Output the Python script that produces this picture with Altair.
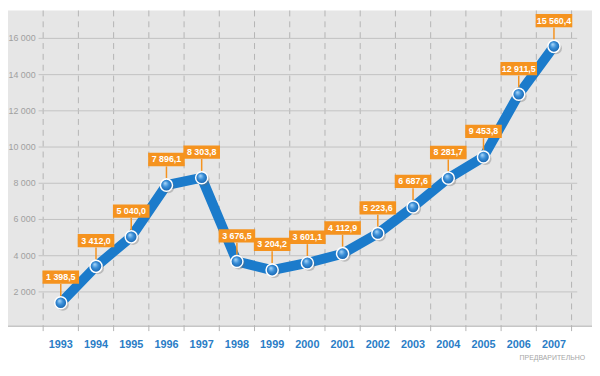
import altair as alt
import pandas as pd

years = [str(y) for y in range(1993, 2008)]
values = [1398.5, 3412.0, 5040.0, 7896.1, 8303.8, 3676.5, 3204.2, 3601.1,
          4112.9, 5223.6, 6687.6, 8281.7, 9453.8, 12911.5, 15560.4]
y_ticks = [2000, 4000, 6000, 8000, 10000, 12000, 14000, 16000]
note_text = ["ПРЕДВАРИТЕЛЬНО"]


def fmt1(v):
    return f"{v:,.1f}".replace(",", " ").replace(".", ",")


def fmt0(v):
    return f"{v:,.0f}".replace(",", " ")


df = pd.DataFrame({"idx": list(range(len(years))), "year": years,
                   "value": values, "label": [fmt1(v) for v in values]})
bounds = pd.DataFrame({"b": [i - 0.5 for i in range(len(years) + 1)]})
ticks = pd.DataFrame({"t": y_ticks, "tl": [fmt0(t) for t in y_ticks]})
one = pd.DataFrame({"a": [0]})
note = pd.DataFrame({"note": note_text})

FONT = "Liberation Sans, Arial, sans-serif"
ORANGE = "#f5931f"
BLUE = "#1b7bcb"

xs = alt.Scale(domain=[-1.498, 15.08], nice=False, zero=False)
ys = alt.Scale(domain=[-2506, 17541], nice=False, zero=False)


def X(f):
    return alt.X(f, type="quantitative", scale=xs, axis=None)


def Y(f):
    return alt.Y(f, type="quantitative", scale=ys, axis=None)


panel = alt.Chart(one).mark_rect(color="#e6e6e6").encode(
    x=alt.value(0), x2=alt.value(592), y=alt.value(0), y2=alt.value(320))
border = alt.Chart(one).mark_rule(color="#c6c6c6", strokeWidth=1.5).encode(
    x=alt.value(0), x2=alt.value(592), y=alt.value(320))

vlines = alt.Chart(bounds).mark_rule(color="#b4b4b4", strokeDash=[6, 5], strokeWidth=1).encode(
    x=X("b"), y=alt.value(0), y2=alt.value(330))

hlines = alt.Chart(ticks).mark_rule(color="#c2c2c2", strokeWidth=1).encode(
    x=alt.value(31), x2=alt.value(577), y=Y("t"))

ylabels = alt.Chart(ticks).mark_text(align="right", baseline="middle", color="#a0a0a0",
                                     fontSize=9, font=FONT).encode(
    x=alt.value(28), y=Y("t"), text="tl:N")

line = alt.Chart(df).mark_line(color=BLUE, strokeWidth=10, strokeJoin="round",
                               strokeCap="round").encode(x=X("idx"), y=Y("value"))

stems = alt.Chart(df).mark_rule(color=ORANGE, strokeWidth=1.5, yOffset=-19, y2Offset=-7).encode(
    x=X("idx"), y=Y("value"), y2=alt.Y2("value"))

shadow = alt.Chart(df).mark_circle(size=150, color="#6a6a6a", opacity=0.35,
                                   xOffset=2, yOffset=2).encode(x=X("idx"), y=Y("value"))

grad = {"gradient": "radial", "x1": 0.38, "y1": 0.32, "r1": 0.0,
        "x2": 0.5, "y2": 0.5, "r2": 0.55,
        "stops": [{"offset": 0, "color": "#b3dcfb"},
                  {"offset": 0.45, "color": "#3a8fd8"},
                  {"offset": 1, "color": "#0f5ca8"}]}

points = alt.Chart(df).mark_circle(size=150, fill=grad, opacity=1, stroke="white",
                                   strokeWidth=1.5).encode(x=X("idx"), y=Y("value"))

boxes = alt.Chart(df).mark_point(shape="M-2.75,-1H2.75V1H-2.75Z", size=182, filled=True,
                                 color=ORANGE, opacity=1, yOffset=-26).encode(
    x=X("idx"), y=Y("value"))

btext = alt.Chart(df).mark_text(color="white", fontWeight="bold", fontSize=9, font=FONT,
                                baseline="middle", yOffset=-26).encode(
    x=X("idx"), y=Y("value"), text="label:N")

xlabels = alt.Chart(df).mark_text(color="#2a7dc6", fontWeight="bold", fontSize=11, font=FONT,
                                  baseline="middle").encode(
    x=X("idx"), y=alt.value(339), text="year:N")

notes = alt.Chart(note).mark_text(color="#a6a6a6", fontSize=7, font=FONT, align="right",
                                  baseline="middle").encode(
    x=alt.value(585), y=alt.value(352), text="note:N")

chart = alt.layer(panel, border, vlines, hlines, ylabels, line, stems, shadow, points,
                  boxes, btext, xlabels, notes).properties(
    width=592, height=368, autosize=alt.AutoSizeParams(type="none"), padding=0
).configure_view(stroke=None)

chart.save("out.html", embed_options={"renderer": "svg", "actions": False})
